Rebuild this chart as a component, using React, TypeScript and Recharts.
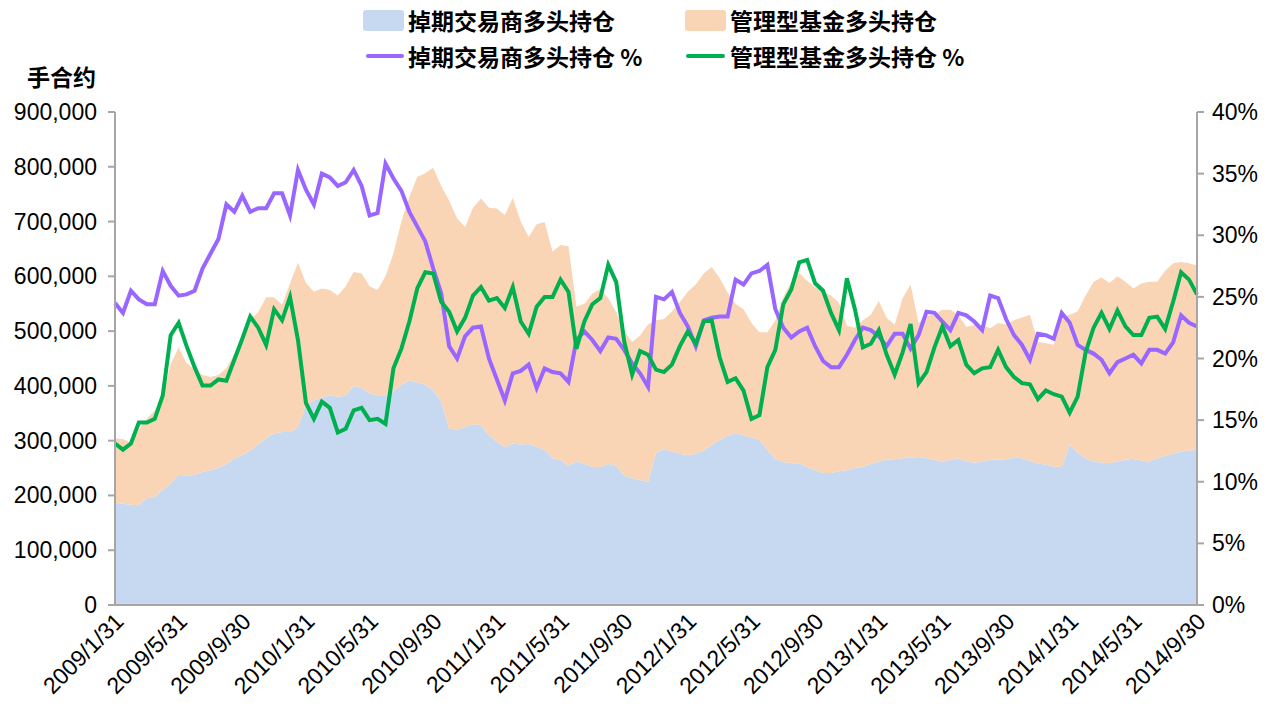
import React from 'react';
import { ComposedChart, Area, Line, XAxis, YAxis } from 'recharts';

// half-month sample points, 2009/1/31 .. 2014/9/30 (137 points)
const tickLabels = ['2009/1/31','2009/5/31','2009/9/30','2010/1/31','2010/5/31','2010/9/30','2011/1/31','2011/5/31','2011/9/30','2012/1/31','2012/5/31','2012/9/30','2013/1/31','2013/5/31','2013/9/30','2014/1/31','2014/5/31','2014/9/30'];

// 掉期交易商多头持仓 (千手)
const swapLong = [
186,185,183,182,195,197,210,222,238,236,
238,243,246,250,258,267,274,282,293,305,
313,316,316,325,365,374,378,383,380,382,
400,396,386,383,383,390,402,410,406,402,
392,372,322,320,325,330,328,310,298,288,
295,293,294,289,283,268,265,254,262,258,
252,252,258,254,236,232,228,225,277,285,
280,276,274,276,282,292,301,309,314,310,
306,302,283,266,261,259,259,252,246,241,
241,244,246,250,252,258,262,265,266,268,
269,270,268,265,261,265,268,262,260,261,
265,265,266,269,268,263,259,256,253,252,
293,278,268,262,260,259,262,265,267,264,
262,268,272,276,280,282,283];

// 管理型基金多头持仓 (千手)
const mmLong = [
118,118,113,138,145,158,170,218,232,206,
192,177,170,170,174,191,216,238,242,257,
249,232,272,300,223,198,200,192,185,200,
208,209,196,192,217,252,298,335,376,386,
406,393,416,386,365,395,414,415,426,424,
448,407,378,406,416,377,392,401,283,292,
316,325,302,281,264,248,264,287,243,237,
256,277,298,309,323,325,296,261,236,230,
209,196,215,254,301,331,347,340,334,331,
324,308,264,256,268,272,293,259,246,292,
316,245,259,266,278,274,262,246,251,250,
240,250,246,251,257,267,221,222,222,273,
237,258,297,328,338,329,338,325,311,323,
328,322,338,348,346,342,337];

// 掉期交易商多头持仓 %
const swapPct = [
24.5,23.7,25.5,24.8,24.4,24.4,27.1,25.9,25.1,25.2,
25.5,27.3,28.5,29.7,32.5,31.9,33.2,31.9,32.2,32.2,
33.4,33.4,31.6,35.3,33.7,32.5,35.0,34.7,34.0,34.3,
35.3,34.0,31.6,31.8,35.8,34.6,33.6,31.9,30.7,29.5,
27.3,25.3,21.0,20.0,21.8,22.5,22.6,20.0,18.3,16.6,
18.8,19.0,19.5,17.6,19.2,18.9,18.8,18.1,21.5,22.2,
21.5,20.6,21.7,21.6,20.7,19.6,18.8,17.7,25.0,24.8,
25.4,23.7,22.6,21.0,23.1,23.3,23.4,23.4,26.4,26.0,
26.9,27.1,27.6,24.0,22.5,21.7,22.2,22.5,21.0,19.8,
19.3,19.3,20.3,21.5,22.5,22.3,21.8,21.0,22.0,22.0,
20.8,21.9,23.8,23.7,23.0,22.3,23.7,23.5,23.0,22.3,
25.1,24.9,23.2,21.9,21.1,19.9,22.0,21.9,21.6,23.7,
22.9,21.1,20.7,20.4,19.9,18.8,19.7,20.0,20.3,19.6,
20.7,20.7,20.4,21.3,23.5,22.9,22.6];

// 管理型基金多头持仓 %
const mmPct = [
13.1,12.6,13.1,14.8,14.8,15.1,17.0,21.9,22.9,21.0,
19.3,17.8,17.8,18.3,18.2,19.9,21.6,23.4,22.5,21.1,
24.0,23.1,25.0,21.5,16.4,15.1,16.5,16.0,14.0,14.3,
15.8,16.0,15.0,15.1,14.7,19.2,20.8,23.0,25.7,27.0,
26.9,24.6,23.8,22.2,23.3,25.1,25.8,24.7,24.9,24.1,
25.8,23.0,22.0,24.2,25.0,25.0,26.4,25.4,20.8,23.0,
24.4,24.9,27.6,26.2,21.4,18.7,20.6,20.3,19.1,18.9,
19.5,21.0,22.2,21.2,23.0,23.1,20.1,18.1,18.4,17.4,
15.1,15.4,19.3,20.7,24.4,25.6,27.8,28.0,26.1,25.5,
23.7,22.3,26.5,24.0,20.9,21.2,22.3,20.3,18.7,20.5,
22.8,18.0,18.9,20.9,22.6,21.0,21.5,19.5,18.8,19.2,
19.3,20.7,19.3,18.5,18.0,17.9,16.7,17.4,17.1,16.9,
15.6,16.9,20.5,22.5,23.7,22.4,23.9,22.6,21.9,21.9,
23.3,23.4,22.4,24.6,27.0,26.4,25.2];

const leftTicks = [0,100000,200000,300000,400000,500000,600000,700000,800000,900000];
const rightTicks = [0,5,10,15,20,25,30,35,40];

const POINTS_PER_LABEL = 8;
const data = swapLong.map((v, i) => ({
  idx: i,
  swap: v * 1000,
  mm: mmLong[i] * 1000,
  swapPct: swapPct[i],
  mmPct: mmPct[i],
}));
const xTicks = tickLabels.map((_, i) => i * POINTS_PER_LABEL);

const C_BLUE = '#C6D9F1';
const C_ORANGE = '#FAD5B5';
const C_PURPLE = '#9966FF';
const C_GREEN = '#00B050';
const AXIS = '#A6A6A6';
const NUM_FONT = '"Liberation Sans", Arial, sans-serif';
const CJK_FONT = '"Noto Sans CJK SC", "Noto Sans", sans-serif';

const LeftTick = (p: any) => (
  <text x={p.x} y={p.y} dy={8} textAnchor="end" fontSize={23} fontFamily={NUM_FONT} fill="#000">
    {Number(p.payload.value).toLocaleString('en-US')}
  </text>
);
const RightTick = (p: any) => (
  <text x={p.x} y={p.y} dy={8} textAnchor="start" fontSize={23} fontFamily={NUM_FONT} fill="#000">
    {p.payload.value + '%'}
  </text>
);
const XTick = (p: any) => {
  const label = tickLabels[Math.round(p.payload.value / POINTS_PER_LABEL)];
  return (
    <g transform={`translate(${p.x + 10},${p.y + 18})`}>
      <text x={0} y={0} textAnchor="end" transform="rotate(-45)" fontSize={23} fontFamily={NUM_FONT} fill="#000">
        {label}
      </text>
    </g>
  );
};

const textStyle: React.CSSProperties = {
  position: 'absolute', fontSize: 23, lineHeight: '28px', fontFamily: CJK_FONT, fontWeight: 700, color: '#000', whiteSpace: 'nowrap',
};

const LegendBlock = () => (
  <>
    <div style={{ position: 'absolute', left: 363, top: 10, width: 41, height: 21, background: C_BLUE, borderRadius: 3 }} />
    <div style={{ ...textStyle, left: 408, top: 6 }}>掉期交易商多头持仓</div>
    <div style={{ position: 'absolute', left: 685, top: 10, width: 41, height: 21, background: C_ORANGE, borderRadius: 3 }} />
    <div style={{ ...textStyle, left: 730, top: 6 }}>管理型基金多头持仓</div>
    <div style={{ position: 'absolute', left: 366, top: 54, width: 38, height: 4, background: C_PURPLE, borderRadius: 2 }} />
    <div style={{ ...textStyle, left: 408, top: 42 }}>掉期交易商多头持仓 %</div>
    <div style={{ position: 'absolute', left: 686, top: 54, width: 39, height: 4, background: C_GREEN, borderRadius: 2 }} />
    <div style={{ ...textStyle, left: 730, top: 42 }}>管理型基金多头持仓 %</div>
    <div style={{ ...textStyle, left: 27, top: 62 }}>手合约</div>
  </>
);

export default function App() {
  return (
    <div style={{ position: 'absolute', left: 0, top: 0, width: 1276, height: 706, background: '#fff' }}>
      <div style={{ position: 'absolute', left: 0, top: 0 }}>
        <ComposedChart
          width={1276}
          height={706}
          data={data}
          margin={{ top: 112, right: 9, bottom: 11, left: 0 }}
        >
          <XAxis
            dataKey="idx"
            type="number"
            domain={[0, 136]}
            ticks={xTicks}
            interval={0}
            tickLine={false}
            tickSize={0}
            tickMargin={0}
            height={90}
            axisLine={{ stroke: AXIS, strokeWidth: 2 }}
            tick={<XTick />}
          />
          <YAxis
            yAxisId="left"
            orientation="left"
            width={115}
            domain={[0, 900000]}
            ticks={leftTicks}
            interval={0}
            tickSize={7}
            tickMargin={11}
            axisLine={{ stroke: AXIS, strokeWidth: 2 }}
            tickLine={{ stroke: AXIS, strokeWidth: 2 }}
            tick={<LeftTick />}
          />
          <YAxis
            yAxisId="right"
            orientation="right"
            width={70}
            domain={[0, 40]}
            ticks={rightTicks}
            interval={0}
            tickSize={7}
            tickMargin={8}
            axisLine={{ stroke: AXIS, strokeWidth: 2 }}
            tickLine={{ stroke: AXIS, strokeWidth: 2 }}
            tick={<RightTick />}
          />
          <Area yAxisId="left" type="linear" dataKey="swap" stackId="pos" stroke="none" fill={C_BLUE} fillOpacity={1} isAnimationActive={false} />
          <Area yAxisId="left" type="linear" dataKey="mm" stackId="pos" stroke="none" fill={C_ORANGE} fillOpacity={1} isAnimationActive={false} />
          <Line yAxisId="right" type="linear" dataKey="swapPct" stroke={C_PURPLE} strokeWidth={4} dot={false} isAnimationActive={false} />
          <Line yAxisId="right" type="linear" dataKey="mmPct" stroke={C_GREEN} strokeWidth={4} dot={false} isAnimationActive={false} />
        </ComposedChart>
      </div>
      <LegendBlock />
    </div>
  );
}
